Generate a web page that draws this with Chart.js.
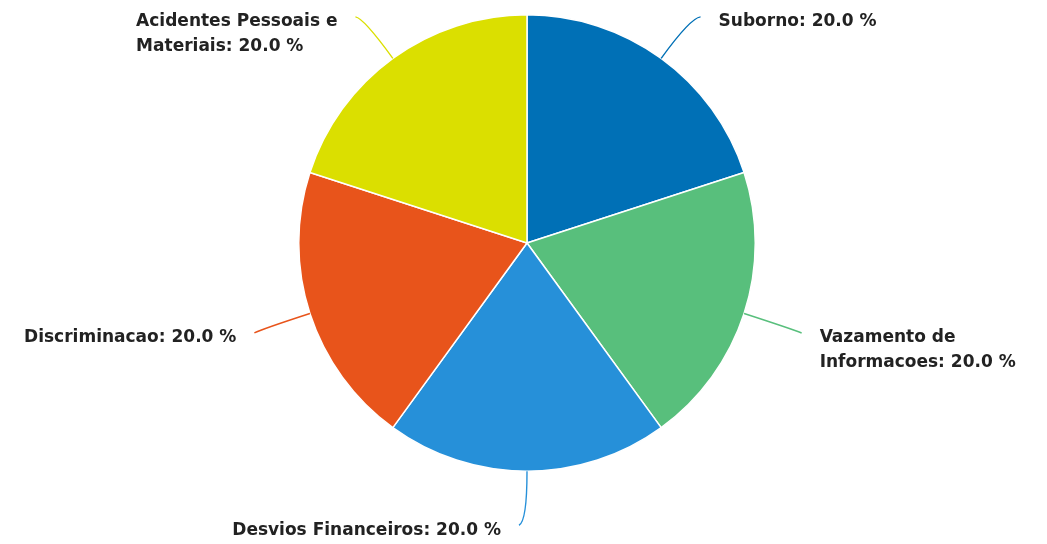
<!DOCTYPE html>
<html>
<head>
<meta charset="utf-8">
<script src="https://cdn.jsdelivr.net/npm/chart.js@4/dist/chart.umd.min.js"></script>
<style>
  html, body { margin: 0; padding: 0; background: #fff; }
  #wrap { width: 1047px; height: 544px; }
</style>
</head>
<body>
<div id="wrap"><canvas id="myChart" width="1047" height="544"></canvas></div>
<script>
var categories = ['Suborno', 'Vazamento de Informacoes', 'Desvios Financeiros', 'Discriminacao', 'Acidentes Pessoais e Materiais'];
var values = [20.0, 20.0, 20.0, 20.0, 20.0];
var colors = ['#0070b6', '#58bf7c', '#2690d9', '#e8541b', '#dbdf00'];

// leader lines + labels, drawn outside the pie
var outsideLabels = {
    id: 'outsideLabels',
    afterDatasetsDraw: function (chart) {
        var ctx = chart.ctx;
        var meta = chart.getDatasetMeta(0);
        var total = values.reduce(function (a, b) { return a + b; }, 0);
        ctx.save();
        ctx.font = 'bold 17px "DejaVu Sans", Verdana, sans-serif';
        ctx.textBaseline = 'middle';
        meta.data.forEach(function (arc, i) {
            var mid = (arc.startAngle + arc.endAngle) / 2;
            var cx = arc.x, cy = arc.y, r = arc.outerRadius;
            var dx = Math.cos(mid), dy = Math.sin(mid);
            var x0 = cx + dx * r, y0 = cy + dy * r;
            var x1 = cx + dx * (r + 50), y1 = cy + dy * (r + 50);
            var left = dx < 0.1;
            var x2 = x1 + (left ? -8 : 10), y2 = y1 + (dy > 0 ? 4 : -1);

            ctx.strokeStyle = colors[i];
            ctx.lineWidth = 1.4;
            ctx.beginPath();
            ctx.moveTo(x0, y0);
            ctx.quadraticCurveTo(x1, y1, x2, y2);
            ctx.stroke();

            var text = categories[i] + ': ' + (values[i] / total * 100).toFixed(1) + ' %';
            var maxW = Math.abs(dx) < 0.1 ? 400 : 240;
            var words = text.split(' ');
            var lines = [], cur = '';
            words.forEach(function (w) {
                var t = cur ? cur + ' ' + w : w;
                if (cur && ctx.measureText(t).width > maxW) { lines.push(cur); cur = w; }
                else cur = t;
            });
            lines.push(cur);
            var blockW = Math.max.apply(null, lines.map(function (l) { return ctx.measureText(l).width; }));
            var tx = left ? x2 - 18 - blockW : x2 + 18;
            ctx.fillStyle = '#222';
            ctx.textAlign = 'left';
            lines.forEach(function (l, k) {
                ctx.fillText(l, tx, y2 + 5 + k * 25);
            });
        });
        ctx.restore();
    }
};

var ctx = document.getElementById('myChart').getContext('2d');
var myChart = new Chart(ctx, {
    type: 'pie',
    data: {
        labels: categories,
        datasets: [{
            data: values,
            backgroundColor: colors,
            borderColor: '#ffffff',
            borderWidth: 1.5
        }]
    },
    options: {
        responsive: false,
        animation: false,
        layout: { padding: { left: 298, right: 291, top: 14, bottom: 72 } },
        plugins: {
            legend: { display: false },
            tooltip: { enabled: false }
        }
    },
    plugins: [outsideLabels]
});
</script>
</body>
</html>
